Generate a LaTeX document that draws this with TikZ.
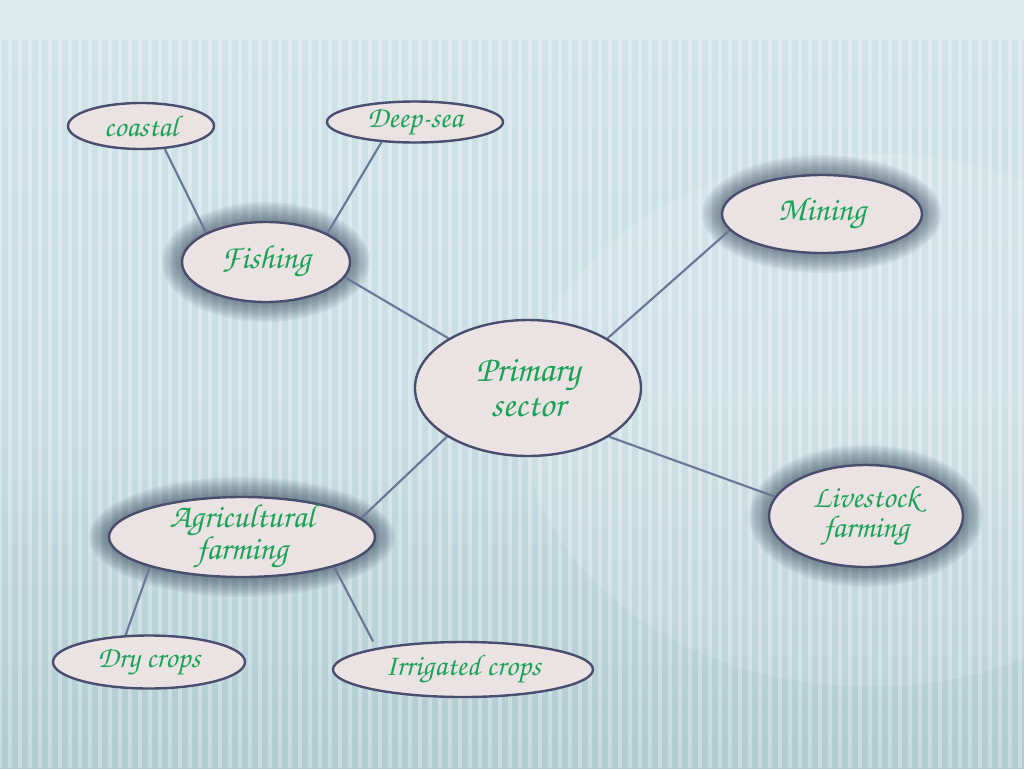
\documentclass[tikz,border=0pt]{standalone}
\usetikzlibrary{shapes.geometric,backgrounds}
\definecolor{bgtop}{HTML}{DDEAEE}
\definecolor{bgmid}{HTML}{CFE3E8}
\definecolor{bgbot}{HTML}{B0CCD1}
\definecolor{nodefill}{HTML}{EBE3E3}
\definecolor{nodeborder}{HTML}{4A4E6E}
\definecolor{linkc}{HTML}{6A7898}
\definecolor{txtgreen}{HTML}{1AA356}
\definecolor{glowc}{HTML}{2E3F55}
\newcommand\chfont{\fontencoding{T1}\fontfamily{pzc}\fontseries{mb}\fontshape{it}\selectfont}
\newcommand\chsize[2]{\chfont\fontsize{#1}{#2}\selectfont\lineskiplimit=-100pt\relax}
\begin{document}
\begin{tikzpicture}[x=0.75pt,y=-0.75pt,
  bub/.style={ellipse, draw=nodeborder, line width=1.8pt, fill=nodefill, inner sep=0pt,
    text=txtgreen, align=center, font=\chsize{25}{21}},
  twoline/.style={inner ysep=-9pt, inner xsep=0pt},
  smallbub/.style={bub, font=\chsize{22.5}{20}},
  link/.style={draw=linkc, line width=1.6pt},
  stripe/.style={white, opacity=0.3, line width=3pt}]
\useasboundingbox (0,0) rectangle (1024,768);

% nodes
\node[smallbub, minimum width=109.5pt, minimum height=34.5pt] (coastal) at (141,126) {coastal};
\node[smallbub, minimum width=132pt, minimum height=28.5pt] (deepsea) at (415,122) {Deep-sea};
\node[bub, minimum width=126pt, minimum height=60pt] (fish) at (266,262) {Fishing};
\node[bub, minimum width=150pt, minimum height=58.5pt] (mining) at (822,214) {Mining};
\node[bub, twoline, minimum width=169.5pt, minimum height=102pt, font=\chsize{27.5}{26}] (primary) at (528,388) {Primary\\sector};
\node[bub, twoline, minimum width=145.5pt, minimum height=76.5pt, font=\chsize{23.5}{22.5}] (live) at (866,516) {Livestock\\farming};
\node[bub, twoline, minimum width=199.5pt, minimum height=60pt, font=\chsize{25}{24}] (agri) at (242,537) {Agricultural\\farming};
\node[smallbub, minimum width=144pt, minimum height=39.75pt] (dry) at (149,662) {Dry crops};
\node[smallbub, minimum width=195pt, minimum height=41.25pt] (irr) at (463,669.5) {Irrigated crops};

\begin{scope}[on background layer]
  % background
  \fill[bgtop] (0,0) rectangle (1024,768);
  \shade[top color=bgmid, bottom color=bgbot, middle color=bgmid!80!bgbot] (0,40) rectangle (1024,768);
  \fill[white, opacity=0.12] (870,420) ellipse [x radius=260pt, y radius=200pt];
  \foreach \i in {0,10,...,1024} {
    \draw[stripe] (\i,40) -- (\i,768);
  }
  % glows
  \foreach \n/\rx/\ry in {fish/84/40, mining/100/39, agri/133/40, live/97/51} {
    \foreach \k in {1,...,10} {
      \fill[glowc, opacity=0.07] (\n.center) ellipse [x radius={(\rx+2*\k)*0.75pt}, y radius={(\ry+2*\k)*0.75pt}];
    }
  }
  % connectors
  \draw[link] (coastal.-44) -- (fish.154);
  \draw[link] (deepsea.-149) -- (fish.25);
  \draw[link] (fish.-11) -- (primary.148);
  \draw[link] (mining.-170) -- (primary.32);
  \draw[link] (primary.-31.5) -- (live.168);
  \draw[link] (primary.211) -- (agri.9.5);
  \draw[link] (agri.198) -- (dry.131.5);
  \draw[link, shorten >=5.5pt] (agri.-18) -- (irr.166.9);
\end{scope}
\end{tikzpicture}
\end{document}
